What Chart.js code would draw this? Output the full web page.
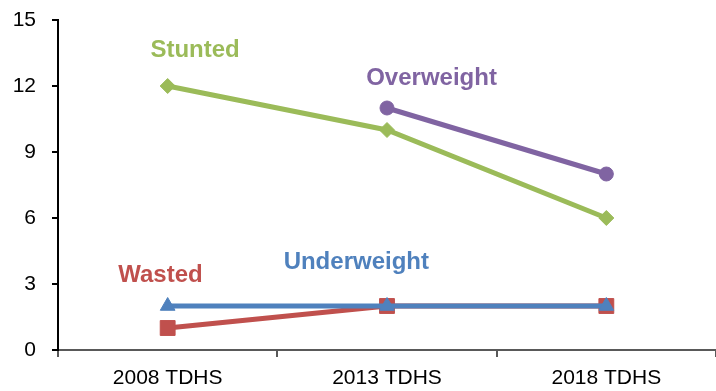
<!DOCTYPE html>
<html>
<head>
<meta charset="utf-8">
<script src="https://cdn.jsdelivr.net/npm/chart.js@4.4.1/dist/chart.umd.min.js"></script>
<style>
  html, body { margin: 0; padding: 0; background: #fff; }
  #wrap { width: 716px; height: 391px; }
</style>
</head>
<body>
<div id="wrap"><canvas id="nutritionChart"></canvas></div>
<script>
// survey rounds on the x-axis
const surveys = ['2008 TDHS', '2013 TDHS', '2018 TDHS'];

// prevalence (%) per indicator
const stunted = [12, 10, 6];
const overweight = [null, 11, 8];
const wasted = [1, 2, 2];
const underweight = [2, 2, 2];

// y-axis range
const yMin = 0, yMax = 15, yStep = 3;

const FONT = "Arial, 'Liberation Sans', sans-serif";

// one line per indicator, name drawn beside it (labelAt = [category index, value])
const datasets = [
    { label: 'Underweight', data: underweight, color: '#4F81BD', point: 'triangle', radius: 8.5, order: 0, labelAt: [0.86, 4.0] },
    { label: 'Wasted', data: wasted, color: '#C0504D', point: 'rect', radius: 10.5, order: 1, labelAt: [-0.033, 3.4] },
    { label: 'Stunted', data: stunted, color: '#9BBB59', point: 'rectRot', radius: 7.5, order: 2, labelAt: [0.125, 13.6] },
    { label: 'Overweight', data: overweight, color: '#8064A2', point: 'circle', radius: 7, order: 3, labelAt: [1.203, 12.35] }
].map((d) => ({
    label: d.label,
    data: d.data,
    order: d.order,
    labelAt: d.labelAt,
    borderColor: d.color,
    backgroundColor: d.color,
    borderWidth: 5,
    pointStyle: d.point,
    pointRadius: d.radius,
    pointBorderWidth: 1,
    pointBorderColor: d.color,
    pointBackgroundColor: d.color,
    tension: 0,
    spanGaps: false
}));

// series names written next to their lines
const seriesLabels = {
    id: 'seriesLabels',
    afterDatasetsDraw(chart) {
        const ctx = chart.ctx;
        const x = chart.scales.x, y = chart.scales.y;
        ctx.save();
        ctx.font = 'bold 24px ' + FONT;
        ctx.textAlign = 'center';
        ctx.textBaseline = 'middle';
        chart.data.datasets.forEach((ds) => {
            ctx.fillStyle = ds.borderColor;
            ctx.fillText(ds.label, x.getPixelForValue(ds.labelAt[0]), y.getPixelForValue(ds.labelAt[1]));
        });
        ctx.restore();
    }
};

new Chart('nutritionChart', {
    type: 'line',
    data: { labels: surveys, datasets: datasets },
    plugins: [seriesLabels],
    options: {
        responsive: true,
        maintainAspectRatio: false,
        animation: false,
        layout: { autoPadding: false, padding: { top: 20, right: 0, left: 0, bottom: 0 } },
        plugins: { legend: { display: false }, tooltip: { enabled: false } },
        scales: {
            x: {
                offset: true,
                grid: { offset: true, drawOnChartArea: false, drawTicks: true, tickLength: 7, color: '#595959', lineWidth: 2 },
                border: { color: '#595959', width: 2 },
                ticks: { color: '#000', font: { family: FONT, size: 21 }, padding: 9, maxRotation: 0 },
                afterFit: (s) => { s.height = 41; }
            },
            y: {
                min: yMin, max: yMax,
                grid: { drawOnChartArea: false, drawTicks: true, tickLength: 6, color: '#000', lineWidth: 2 },
                border: { color: '#000', width: 2 },
                ticks: { stepSize: yStep, color: '#000', font: { family: FONT, size: 21 }, padding: 16 },
                // fixed axis width; label padding should not push the plot down
                afterFit: (s) => { s.width = 58; s.paddingTop = 0; s.paddingBottom = 0; }
            }
        }
    }
});
</script>
</body>
</html>
